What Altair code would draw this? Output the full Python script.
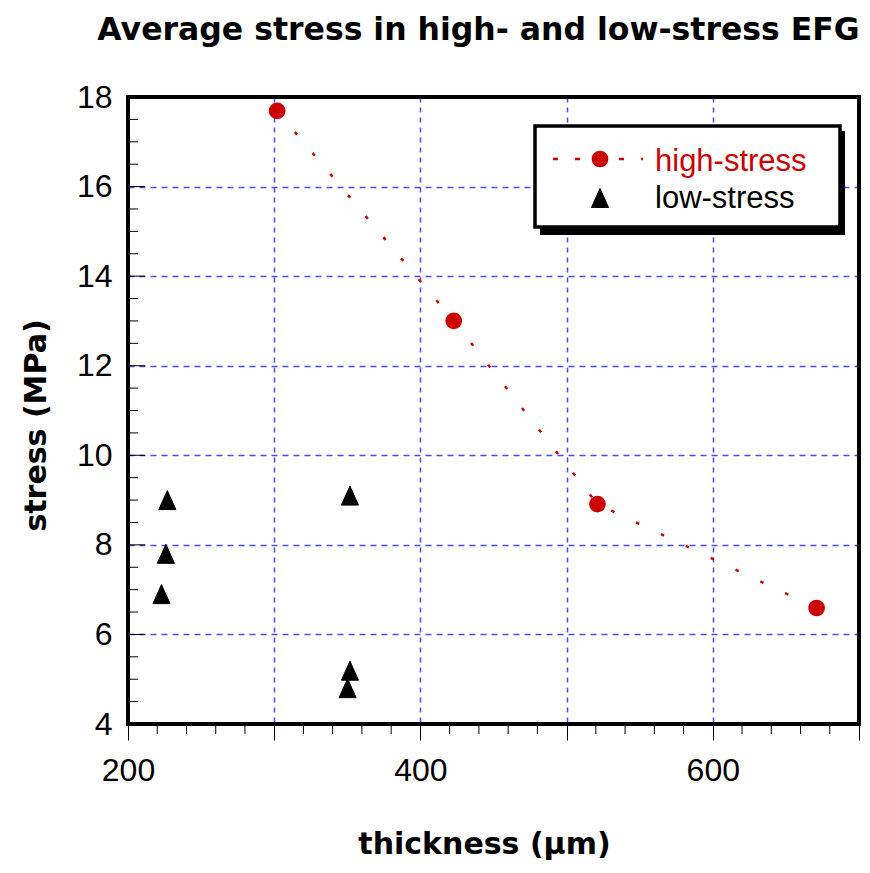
import altair as alt
import pandas as pd

# ---------------- data ----------------
title_text = "Average stress in high- and low-stress EFG"
x_title = "thickness (μm)"
y_title = "stress (MPa)"
series_names = ["high-stress", "low-stress"]

high_x = [302.0, 422.8, 521.1, 671.0]
high_y = [17.69, 13.0, 8.91, 6.59]

low_x = [226.9, 225.9, 222.9, 351.8, 351.8, 350.2]
low_y = [9.0, 7.80, 6.90, 9.10, 5.19, 4.80]

x_major = [200, 300, 400, 500, 600, 700]
x_labeled = [200, 400, 600]
x_minor = [220, 240, 260, 280, 320, 340, 360, 380, 420, 440, 460, 480,
           520, 540, 560, 580, 620, 640, 660, 680]
y_major = [4, 6, 8, 10, 12, 14, 16, 18]
y_inner_major = [6, 8, 10, 12, 14, 16]
y_minor = [4.5, 5, 5.5, 6.5, 7, 7.5, 8.5, 9, 9.5, 10.5, 11, 11.5,
           12.5, 13, 13.5, 14.5, 15, 15.5, 16.5, 17, 17.5]

# ---------------- style ----------------
W, H = 731, 627
RED = "#cc0000"
GRID = "#2a2af2"
LABEL_FONT = "Liberation Sans"
TITLE_FONT = "DejaVu Sans"
TRI = "M0,-1L-0.9,1L0.9,1Z"

xs = alt.Scale(domain=[200, 700], nice=False, zero=False)
ys = alt.Scale(domain=[4, 18], nice=False, zero=False)

label_expr = "indexof([" + ",".join(str(v) for v in x_labeled) + "], datum.value) >= 0 ? datum.label : ''"

x_axis = alt.Axis(
    values=x_major, labelExpr=label_expr, title=x_title,
    grid=True, gridColor=GRID, gridDash=[5, 5], gridWidth=1.5, gridOpacity=0.85,
    domain=False, ticks=True, tickSize=16, tickColor="black", tickWidth=1,
    labelFont=LABEL_FONT, labelFontSize=32, labelColor="black", labelPadding=15,
    labelFlush=False, labelOverlap=False,
    titleFont=TITLE_FONT, titleFontSize=30, titleFontWeight="bold", titleColor="black",
    titleX=356, titleY=129, titleAlign="center", titleBaseline="alphabetic",
)
y_axis = alt.Axis(
    values=y_major, title=y_title,
    grid=True, gridColor=GRID, gridDash=[6, 5], gridWidth=1.5, gridOpacity=0.85,
    domain=False, ticks=False, tickSize=0,
    labelFont=LABEL_FONT, labelFontSize=32, labelColor="black", labelPadding=16,
    labelFlush=False, labelOverlap=False,
    titleFont=TITLE_FONT, titleFontSize=30, titleFontWeight="bold", titleColor="black",
    titleAngle=270, titleX=-83, titleY=328, titleAlign="center", titleBaseline="alphabetic",
)

high_df = pd.DataFrame({"thickness": high_x, "stress": high_y, "series": series_names[0]})
low_df = pd.DataFrame({"thickness": low_x, "stress": low_y, "series": series_names[1]})

X = alt.X("thickness:Q", scale=xs, axis=x_axis)
Y = alt.Y("stress:Q", scale=ys, axis=y_axis)

line = alt.Chart(high_df).mark_line(color=RED, strokeWidth=2.5, strokeDash=[3.5, 24]).encode(x=X, y=Y)
circles = alt.Chart(high_df).mark_point(shape="circle", filled=True, size=280, color=RED, opacity=1).encode(x=X, y=Y)
tris = alt.Chart(low_df).mark_point(shape=TRI, filled=True, size=361, fill="black", stroke="black",
                                    strokeWidth=1, opacity=1).encode(x=X, y=Y)

y_minor_ticks = alt.Chart(pd.DataFrame({"stress": y_minor})).mark_rule(color="black", strokeWidth=1).encode(
    y=Y, x=alt.value(0), x2=alt.value(10))
y_major_ticks = alt.Chart(pd.DataFrame({"stress": y_inner_major})).mark_rule(color="black", strokeWidth=1).encode(
    y=Y, x=alt.value(0), x2=alt.value(17))
x_minor_ticks = alt.Chart(pd.DataFrame({"thickness": x_minor})).mark_rule(color="black", strokeWidth=1).encode(
    x=X, y=alt.value(H), y2=alt.value(H + 10))

one = pd.DataFrame({"series": series_names[:1]})
frame = alt.Chart(one).mark_rect(fillOpacity=0, stroke="black", strokeWidth=4).encode(
    x=alt.value(0), x2=alt.value(W), y=alt.value(0), y2=alt.value(H))

# legend (drawn box with shadow)
leg_shadow = alt.Chart(one).mark_rect(color="black").encode(
    x=alt.value(412), x2=alt.value(717), y=alt.value(34), y2=alt.value(138))
leg_box = alt.Chart(one).mark_rect(fill="white", stroke="black", strokeWidth=3.5).encode(
    x=alt.value(407), x2=alt.value(712), y=alt.value(29), y2=alt.value(130))
leg_line = alt.Chart(one).mark_rule(color=RED, strokeWidth=2.5, strokeDash=[5, 17]).encode(
    x=alt.value(425), x2=alt.value(515), y=alt.value(62))
leg_circle = alt.Chart(one).mark_point(shape="circle", filled=True, size=280, color=RED, opacity=1).encode(
    x=alt.value(472), y=alt.value(62))
leg_tri = alt.Chart(one).mark_point(shape=TRI, filled=True, size=361, fill="black", stroke="black",
                                    strokeWidth=1, opacity=1).encode(x=alt.value(472), y=alt.value(101))
leg_text_high = alt.Chart(pd.DataFrame({"label": series_names[:1]})).mark_text(
    font=LABEL_FONT, fontSize=31, color=RED, align="left", baseline="alphabetic").encode(
    text="label:N", x=alt.value(527), y=alt.value(74))
leg_text_low = alt.Chart(pd.DataFrame({"label": series_names[1:]})).mark_text(
    font=LABEL_FONT, fontSize=31, color="black", align="left", baseline="alphabetic").encode(
    text="label:N", x=alt.value(527), y=alt.value(111))

chart = alt.layer(
    line, circles, tris, y_minor_ticks, y_major_ticks, x_minor_ticks, frame,
    leg_shadow, leg_box, leg_line, leg_circle, leg_tri, leg_text_high, leg_text_low,
).properties(
    width=W, height=H,
    title=alt.Title(text=title_text, font=TITLE_FONT, fontSize=31.5, fontWeight="bold", color="black",
                    anchor="middle", frame="group", dx=-15, offset=10, baseline="alphabetic"),
    padding={"left": 120, "top": 89, "right": 3, "bottom": 136},
    autosize=alt.AutoSizeParams(type="none"),
).configure_view(stroke="transparent")

chart.save("out.html", embed_options={"renderer": "svg", "actions": False})
